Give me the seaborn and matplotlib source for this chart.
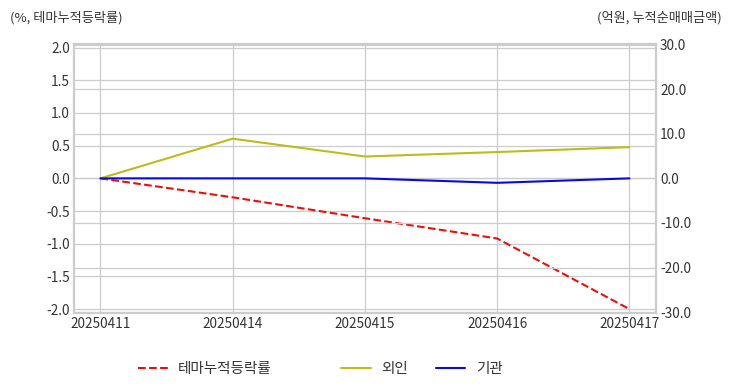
import numpy as np
import pandas as pd
import matplotlib
matplotlib.use('Agg')
import matplotlib.pyplot as plt
import seaborn as sns

dates = ['20250411', '20250414', '20250415', '20250416', '20250417']
theme_rate = [0.0, -0.29, -0.61, -0.92, -2.0]
foreign = [0.0, 8.9, 4.9, 5.9, 7.0]
institution = [0.0, 0.0, 0.0, -1.0, 0.0]

sns.set_style('whitegrid')
plt.rcParams['font.family'] = ['Noto Sans CJK KR', 'DejaVu Sans']
plt.rcParams['axes.unicode_minus'] = False

df = pd.DataFrame({'date': dates, 'theme': theme_rate, 'foreign': foreign, 'inst': institution})
df['idx'] = range(len(df))

fig = plt.figure(figsize=(7.32, 3.92), dpi=100)
ax = fig.add_axes([0.101, 0.2015, 0.795, 0.687])
ax2 = ax.twinx()

grid_c = '#cccccc'
text_c = '#333333'

sns.lineplot(data=df, x='idx', y='theme', ax=ax, color='#e8100c', linestyle='--', linewidth=1.5,
             label='테마누적등락률', legend=False)
sns.lineplot(data=df, x='idx', y='foreign', ax=ax2, color='#bcbc1a', linewidth=1.5,
             label='외인', legend=False)
sns.lineplot(data=df, x='idx', y='inst', ax=ax2, color='#0a0adc', linewidth=1.5,
             label='기관', legend=False)

ax.set_xlim(-0.2, 4.2)
ax.set_ylim(-2.06, 2.06)
ax.set_yticks(np.arange(-2.0, 2.01, 0.5))
ax.set_yticklabels([f'{v:.1f}' for v in np.arange(-2.0, 2.01, 0.5)])
ax2.set_ylim(-30.2, 30.2)
ax2.set_yticks(np.arange(-30, 31, 10))
ax2.set_yticklabels([f'{v:.1f}' for v in np.arange(-30, 31, 10)])
ax.set_xticks(df['idx'])
ax.set_xticklabels(dates)

for a in (ax, ax2):
    a.set_xlabel('')
    a.set_ylabel('')
    a.grid(True, color=grid_c, linewidth=0.9)
    a.tick_params(labelsize=9.8, colors=text_c, length=0, pad=3)
    for s in a.spines.values():
        s.set_color(grid_c)
        s.set_linewidth(1.5)
ax2.grid(axis='x', visible=False)

fig.text(0.014, 0.955, '(%, 테마누적등락률)', fontsize=9.5, color=text_c, ha='left', va='center')
fig.text(0.986, 0.955, '(억원, 누적순매매금액)', fontsize=9.5, color=text_c, ha='right', va='center')

h1, l1 = ax.get_legend_handles_labels()
h2, l2 = ax2.get_legend_handles_labels()
leg_kw = dict(frameon=False, fontsize=10.5, handlelength=2.05, handletextpad=0.7,
              borderpad=0, borderaxespad=0, labelcolor=text_c, loc='center left')
fig.legend(h1, l1, bbox_to_anchor=(138 / 732, 0.059), **leg_kw)
fig.legend(h2, l2, bbox_to_anchor=(341 / 732, 0.059), ncol=2, columnspacing=1.9, **leg_kw)

fig.savefig('out.png', dpi=100)
